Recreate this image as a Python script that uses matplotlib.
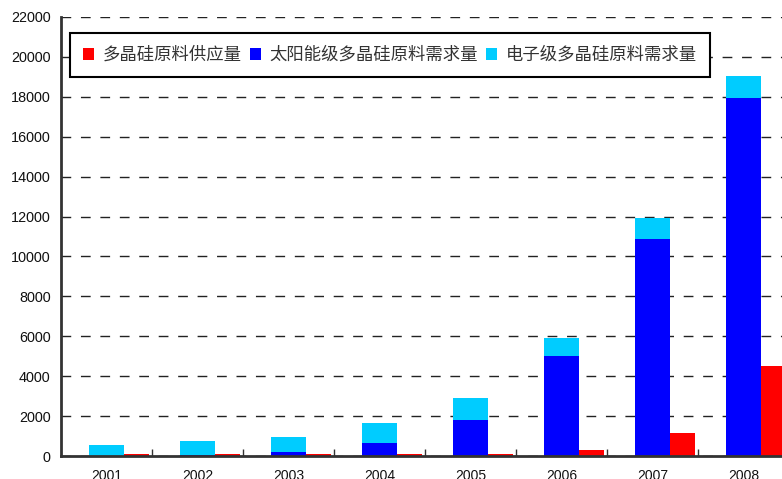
import matplotlib.pyplot as plt
import numpy as np
from matplotlib.patches import Patch

years = ["2001", "2002", "2003", "2004", "2005", "2006", "2007", "2008"]
supply = [100, 100, 100, 100, 100, 300, 1150, 4500]
solar_demand = [20, 30, 200, 670, 1800, 5000, 10850, 17950]
electronic_demand = [530, 720, 750, 980, 1100, 900, 1100, 1100]

series_labels = ["多晶硅原料供应量", "太阳能级多晶硅原料需求量", "电子级多晶硅原料需求量"]
colors = ["#ff0000", "#0000ff", "#00ccff"]

plt.rcParams["font.family"] = ["Liberation Sans", "Noto Sans CJK SC", "DejaVu Sans"]

fig = plt.figure(figsize=(7.82, 4.79), dpi=100)
ax = fig.add_axes([61 / 782, 23 / 479, 728 / 782, 439 / 479])

x = np.arange(len(years))
stack_w = 0.374
red_w = 0.275

ax.bar(x - stack_w / 2, solar_demand, width=stack_w, align="edge",
       color=colors[1], zorder=3)
ax.bar(x - stack_w / 2, electronic_demand, width=stack_w, align="edge",
       bottom=solar_demand, color=colors[2], zorder=3)
ax.bar(x + stack_w / 2, supply, width=red_w, align="edge",
       color=colors[0], zorder=3)

ax.set_xlim(-0.5, len(years) - 0.5)
ax.set_ylim(0, 22000)
ax.set_yticks(np.arange(0, 22001, 2000))
ax.tick_params(axis="y", length=0, pad=7.5, labelsize=10.4, labelcolor="#111111")

# labels at category centres, tick marks on the boundaries
ax.set_xticks(x)
ax.set_xticklabels(years)
ax.set_xticks(x[:-1] + 0.5, minor=True)
ax.tick_params(axis="x", which="major", length=0, pad=9, labelsize=10,
               labelcolor="#111111")
ax.tick_params(axis="x", which="minor", direction="in", length=5,
               width=1, color="#333333")

ax.grid(axis="y", color="#222222", linestyle=(0, (7, 7)), linewidth=1, zorder=1)
ax.spines["top"].set_visible(False)
ax.spines["right"].set_visible(False)
for side in ("left", "bottom"):
    ax.spines[side].set_color("#333333")
    ax.spines[side].set_linewidth(2)
    ax.spines[side].set_zorder(4)

handles = [Patch(facecolor=c, edgecolor="none") for c in colors]
leg = ax.legend(handles, series_labels, ncol=3, loc="center left",
                bbox_to_anchor=(70 / 782, 1 - 55 / 479),
                bbox_transform=fig.transFigure, borderaxespad=0,
                prop={"family": ["Noto Sans CJK SC"], "size": 12.5},
                handlelength=0.65, handleheight=0.65, handletextpad=0.5,
                columnspacing=0.45, borderpad=0.75, frameon=True, fancybox=False,
                shadow=False, labelcolor="#333333")
frame = leg.get_frame()
frame.set_edgecolor("#000000")
frame.set_linewidth(1.5)
frame.set_facecolor("white")
frame.set_alpha(1)
leg.set_zorder(5)

fig.savefig("out.png", dpi=100)
